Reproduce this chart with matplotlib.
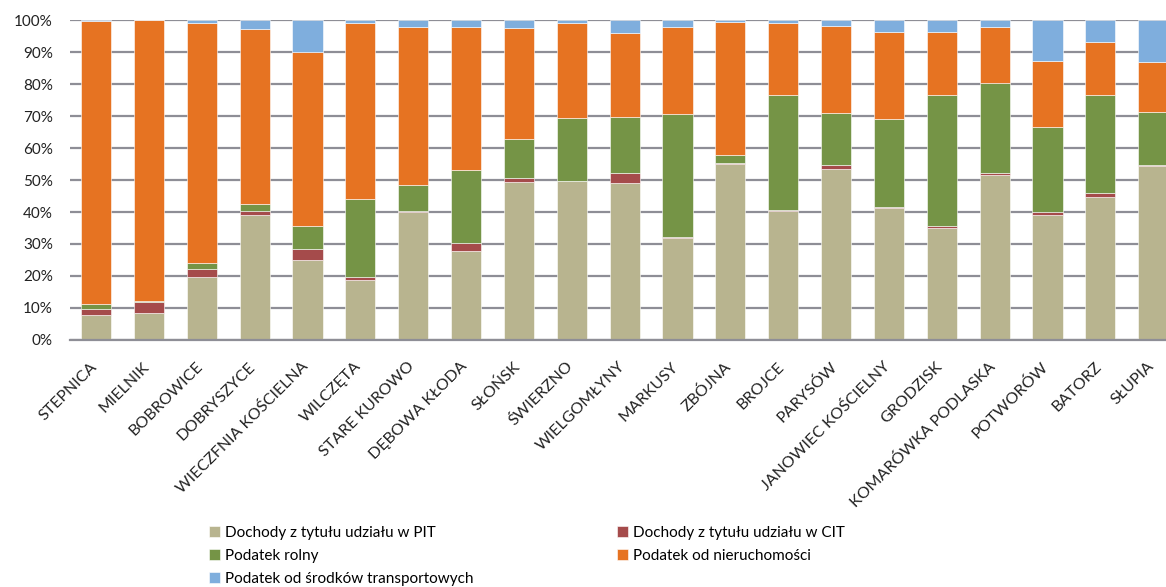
import numpy as np
import matplotlib.pyplot as plt
from matplotlib.ticker import PercentFormatter
from matplotlib.transforms import ScaledTranslation

plt.rcParams['font.family'] = ['Lato', 'DejaVu Sans']

gminy = ["STEPNICA", "MIELNIK", "BOBROWICE", "DOBRYSZYCE", "WIECZFNIA KOŚCIELNA",
         "WILCZĘTA", "STARE KUROWO", "DĘBOWA KŁODA", "SŁOŃSK", "ŚWIERZNO",
         "WIELGOMŁYNY", "MARKUSY", "ZBÓJNA", "BROJCE", "PARYSÓW",
         "JANOWIEC KOŚCIELNY", "GRODZISK", "KOMARÓWKA PODLASKA", "POTWORÓW", "BATORZ", "SŁUPIA"]

# udzialy procentowe w dochodach
pit = [7.8, 8.3, 19.8, 39.1, 25.1, 18.8, 40.0, 27.9, 49.5, 49.6, 49.2,
       31.9, 54.9, 40.4, 53.4, 41.3, 35.1, 51.6, 39.1, 44.8, 54.5]
cit = [1.8, 3.7, 2.3, 1.2, 3.2, 1.0, 0.4, 2.3, 1.0, 0.1, 2.9,
       0.2, 0.5, 0.1, 1.2, 0.4, 0.6, 0.5, 0.9, 1.2, 0.3]
rolny = [1.7, 0.2, 1.9, 2.1, 7.4, 24.2, 7.9, 23.0, 12.2, 19.6, 17.5,
         38.6, 2.3, 36.2, 16.4, 27.3, 41.0, 28.1, 26.6, 30.5, 16.4]
nieruch = [88.4, 87.8, 75.2, 54.7, 54.2, 55.2, 49.4, 44.7, 34.9, 29.9, 26.4,
           27.0, 41.8, 22.5, 27.2, 27.4, 19.55, 17.7, 20.7, 16.5, 15.7]
transport = [0.3, 0.0, 0.8, 2.9, 10.1, 0.8, 2.3, 2.1, 2.4, 0.8, 4.0,
             2.3, 0.5, 0.8, 1.8, 3.6, 3.75, 2.1, 12.7, 7.0, 13.1]

serie = [
    ("Dochody z tytułu udziału w PIT", pit, "#b8b48f"),
    ("Dochody z tytułu udziału w CIT", cit, "#a54b4b"),
    ("Podatek rolny", rolny, "#759446"),
    ("Podatek od nieruchomości", nieruch, "#e67322"),
    ("Podatek od środków transportowych", transport, "#7faedd"),
]

fig = plt.figure(figsize=(11.66, 5.87), dpi=100)
ax = fig.add_axes([0.0597, 0.4208, 0.952, 0.5451])

x = np.arange(len(gminy))
bottom = np.zeros(len(gminy))
bars = {}
for nazwa, wart, kolor in serie:
    wart = np.array(wart)
    bars[nazwa] = ax.bar(x, wart, 0.57, bottom=bottom, color=kolor,
                         edgecolor="white", linewidth=0.4, label=nazwa, zorder=3)
    bottom = bottom + wart

ax.set_xlim(-0.5, len(gminy) - 0.5)
ax.set_ylim(0, 100)
ax.set_yticks(np.arange(0, 101, 10))
ax.yaxis.set_major_formatter(PercentFormatter(decimals=0))
ax.grid(axis="y", color="#8e8e96", linewidth=1.6, zorder=0)
for s in ["top", "right", "left"]:
    ax.spines[s].set_visible(False)
ax.spines["bottom"].set_color("#8e8e96")
ax.spines["bottom"].set_linewidth(1.6)
ax.spines["bottom"].set_zorder(4)
ax.tick_params(axis="both", length=0, labelsize=11, colors="#222222")
ax.tick_params(axis="y", pad=12)
ax.tick_params(axis="x", pad=14)
ax.set_xticks(x)
ax.set_xticklabels(gminy, rotation=45, ha="right", rotation_mode="anchor", fontsize=11.5)
# przesuniecie etykiet troche w lewo
przes = ScaledTranslation(-4.5 / 72, 0, fig.dpi_scale_trans)
for lab in ax.get_xticklabels():
    lab.set_transform(lab.get_transform() + przes)

kol = [serie[0][0], serie[2][0], serie[4][0], serie[1][0], serie[3][0]]
fig.legend([bars[k] for k in kol], kol, ncol=2, loc="upper left",
           bbox_to_anchor=(0.1737, 0.1144), frameon=False, fontsize=11,
           handlelength=0.75, handleheight=0.75, handletextpad=0.3,
           labelspacing=0.58, columnspacing=9.41, borderaxespad=0)

fig.savefig("out.png", dpi=100)
